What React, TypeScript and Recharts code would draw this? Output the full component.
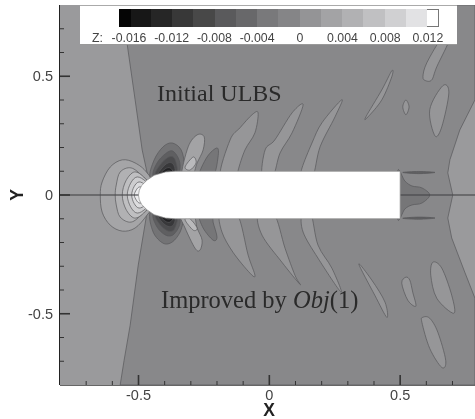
import { ScatterChart, Scatter, XAxis, YAxis } from "recharts";

type Pt = [number, number];

const xTicks = [-0.7, -0.6, -0.5, -0.4, -0.3, -0.2, -0.1, 0, 0.1, 0.2, 0.3, 0.4, 0.5, 0.6, 0.7];
const yTicks = [-0.7, -0.6, -0.5, -0.4, -0.3, -0.2, -0.1, 0, 0.1, 0.2, 0.3, 0.4, 0.5, 0.6, 0.7];
const majorTicks = [-0.5, 0, 0.5];

const barLabels = ["-0.016", "-0.012", "-0.008", "-0.004", "0", "0.004", "0.008", "0.012"];
const barColors = [
  "#050505", "#171717", "#262626", "#383838", "#484848", "#5a5a5c", "#68686a", "#79797b",
  "#858587", "#949496", "#a3a3a5", "#b1b1b3", "#c0c0c2", "#d0d0d2", "#e2e2e4", "#ffffff",
];

// contour regions, in plot coordinates
const plotArea: Pt[] = [[-0.8, 0.8], [0.786, 0.8], [0.786, -0.8], [-0.8, -0.8]];
const zeroRegion: Pt[] = [
  [-0.555, 0.8], [-0.543, 0.633], [-0.513, 0.401], [-0.486, 0.19], [-0.467, 0.093], [-0.471, -0.097],
  [-0.501, -0.295], [-0.532, -0.549], [-0.555, -0.696], [-0.57, -0.8], [0.786, -0.8], [0.786, -0.435],
  [0.747, -0.325], [0.697, -0.181], [0.682, -0.097], [0.701, 0], [0.682, 0.093], [0.69, 0.148],
  [0.728, 0.274], [0.786, 0.401], [0.786, 0.8],
];
const centerLine: Pt[] = [[-0.8, 0], [0.786, 0]];

const nose1: Pt[] = [[-0.467, 0.093], [-0.513, 0.135], [-0.562, 0.148], [-0.608, 0.118], [-0.639, 0.055], [-0.646, 0], [-0.639, -0.072], [-0.608, -0.127], [-0.562, -0.152], [-0.513, -0.139], [-0.467, -0.084], [-0.417, 0]];
const nose2: Pt[] = [[-0.482, 0.076], [-0.528, 0.114], [-0.57, 0.097], [-0.585, 0.042], [-0.589, 0], [-0.585, -0.042], [-0.57, -0.093], [-0.528, -0.114], [-0.482, -0.076], [-0.417, 0]];
const nose3: Pt[] = [[-0.562, 0], [-0.548, 0.06], [-0.515, 0.097], [-0.475, 0.07], [-0.43, 0], [-0.475, -0.07], [-0.515, -0.097], [-0.548, -0.06]];
const nose4: Pt[] = [[-0.543, 0], [-0.53, 0.05], [-0.505, 0.076], [-0.47, 0.055], [-0.43, 0], [-0.47, -0.055], [-0.505, -0.076], [-0.53, -0.05]];
const nose5: Pt[] = [[-0.526, 0], [-0.517, 0.035], [-0.498, 0.055], [-0.47, 0.04], [-0.43, 0], [-0.47, -0.04], [-0.498, -0.055], [-0.517, -0.035]];
const nose6: Pt[] = [[-0.516, 0], [-0.508, 0.022], [-0.495, 0.034], [-0.47, 0.025], [-0.44, 0], [-0.47, -0.025], [-0.495, -0.034], [-0.508, -0.022]];

const darkTop1: Pt[] = [[-0.455, 0.072], [-0.44, 0.148], [-0.406, 0.203], [-0.371, 0.219], [-0.337, 0.19], [-0.326, 0.127], [-0.341, 0.063], [-0.398, 0.042]];
const darkTop2: Pt[] = [[-0.444, 0.08], [-0.429, 0.135], [-0.398, 0.173], [-0.371, 0.186], [-0.348, 0.156], [-0.341, 0.114], [-0.356, 0.063], [-0.398, 0.051]];
const darkTop3: Pt[] = [[-0.436, 0.084], [-0.417, 0.127], [-0.39, 0.156], [-0.368, 0.16], [-0.356, 0.135], [-0.352, 0.097], [-0.371, 0.063], [-0.398, 0.055]];
const darkTop4: Pt[] = [[-0.429, 0.08], [-0.41, 0.114], [-0.387, 0.135], [-0.368, 0.131], [-0.36, 0.097], [-0.379, 0.063], [-0.406, 0.063]];
const darkTop5: Pt[] = [[-0.417, 0.084], [-0.398, 0.11], [-0.379, 0.114], [-0.368, 0.093], [-0.387, 0.063]];
const darkTop6: Pt[] = [[-0.406, 0.084], [-0.39, 0.101], [-0.375, 0.097], [-0.387, 0.072]];

const darkLow1: Pt[] = [[-0.455, -0.072], [-0.444, -0.156], [-0.406, -0.203], [-0.371, -0.198], [-0.341, -0.156], [-0.33, -0.105], [-0.341, -0.063], [-0.398, -0.042]];
const darkLow2: Pt[] = [[-0.444, -0.08], [-0.429, -0.135], [-0.398, -0.168], [-0.371, -0.17], [-0.348, -0.14], [-0.341, -0.105], [-0.356, -0.063], [-0.398, -0.051]];
const darkLow3: Pt[] = [[-0.436, -0.084], [-0.417, -0.125], [-0.39, -0.15], [-0.368, -0.15], [-0.356, -0.125], [-0.352, -0.097], [-0.371, -0.063], [-0.398, -0.055]];
const darkLow4: Pt[] = [[-0.429, -0.08], [-0.41, -0.114], [-0.387, -0.132], [-0.368, -0.128], [-0.36, -0.097], [-0.379, -0.063], [-0.406, -0.063]];
const darkLow5: Pt[] = [[-0.417, -0.084], [-0.398, -0.11], [-0.379, -0.114], [-0.368, -0.093], [-0.387, -0.063]];
const darkLow6: Pt[] = [[-0.406, -0.084], [-0.39, -0.101], [-0.375, -0.097], [-0.387, -0.072]];

const lobeA: Pt[] = [[-0.335, 0.08], [-0.31, 0.203], [-0.276, 0.253], [-0.249, 0.245], [-0.253, 0.19], [-0.276, 0.135], [-0.295, 0.08]];
const lobeAInner: Pt[] = [[-0.322, 0.118], [-0.291, 0.16], [-0.28, 0.135], [-0.303, 0.105]];
const lobeB: Pt[] = [[-0.268, 0.08], [-0.238, 0.16], [-0.2, 0.198], [-0.196, 0.16], [-0.215, 0.08]];
const lobeC: Pt[] = [[-0.188, 0.08], [-0.15, 0.232], [-0.112, 0.283], [-0.066, 0.338], [-0.043, 0.346], [-0.055, 0.262], [-0.093, 0.19], [-0.119, 0.105], [-0.12, 0.08]];
const lobeD: Pt[] = [[-0.028, 0.08], [-0.016, 0.19], [0.021, 0.232], [0.087, 0.346], [0.129, 0.38], [0.087, 0.262], [0.041, 0.177], [0.014, 0.08]];
const lobeE: Pt[] = [[0.125, 0.08], [0.125, 0.114], [0.163, 0.219], [0.201, 0.304], [0.277, 0.401], [0.251, 0.329], [0.194, 0.203], [0.166, 0.08]];
const lobeF: Pt[] = [[0.468, 0.523], [0.43, 0.443], [0.369, 0.329], [0.377, 0.329], [0.43, 0.401], [0.468, 0.498]];
const lobeG: Pt[] = [[0.522, 0.4], [0.51, 0.371], [0.522, 0.338], [0.534, 0.371]];
const lobeH: Pt[] = [[0.587, 0.498], [0.602, 0.557], [0.659, 0.66], [0.69, 0.66], [0.64, 0.54], [0.621, 0.485], [0.598, 0.481]];
const lobeI: Pt[] = [[0.663, 0.46], [0.613, 0.359], [0.633, 0.249], [0.659, 0.287], [0.686, 0.43]];

const lowA: Pt[] = [[-0.341, -0.08], [-0.322, -0.139], [-0.284, -0.224], [-0.265, -0.232], [-0.257, -0.19], [-0.276, -0.139], [-0.291, -0.08]];
const lowAInner: Pt[] = [[-0.322, -0.105], [-0.291, -0.148], [-0.276, -0.139], [-0.303, -0.1]];
const lowB: Pt[] = [[-0.268, -0.08], [-0.253, -0.139], [-0.215, -0.19], [-0.2, -0.177], [-0.215, -0.114], [-0.219, -0.08]];
const lowC: Pt[] = [[-0.188, -0.08], [-0.181, -0.156], [-0.139, -0.241], [-0.074, -0.329], [-0.055, -0.338], [-0.081, -0.253], [-0.123, -0.08]];
const lowD: Pt[] = [[-0.043, -0.08], [-0.028, -0.169], [0.048, -0.283], [0.117, -0.376], [0.098, -0.338], [0.06, -0.224], [0.018, -0.08]];
const lowE: Pt[] = [[0.125, -0.08], [0.129, -0.156], [0.186, -0.266], [0.274, -0.409], [0.239, -0.308], [0.186, -0.211], [0.159, -0.08]];
const lowF: Pt[] = [[0.342, -0.291], [0.403, -0.422], [0.449, -0.515], [0.442, -0.451], [0.392, -0.359]];
const lowG: Pt[] = [[0.522, -0.346], [0.506, -0.371], [0.529, -0.443], [0.56, -0.468], [0.548, -0.409], [0.537, -0.359]];
const lowH: Pt[] = [[0.587, -0.515], [0.583, -0.536], [0.613, -0.646], [0.659, -0.726], [0.674, -0.696], [0.644, -0.578], [0.613, -0.519]];
const lowI: Pt[] = [[0.625, -0.283], [0.617, -0.338], [0.64, -0.435], [0.705, -0.498], [0.697, -0.422], [0.659, -0.308]];

const wakeTop: Pt[] = [[0.51, 0.095], [0.571, 0.099], [0.633, 0.095], [0.571, 0.09]];
const wakeLow: Pt[] = [[0.51, -0.098], [0.571, -0.093], [0.633, -0.097], [0.571, -0.102]];
const wakeBase: Pt[] = [[0.49, 0.1], [0.518, 0.059], [0.545, 0.038], [0.583, 0.03], [0.613, 0], [0.583, -0.034], [0.545, -0.042], [0.518, -0.059], [0.49, -0.1]];

const body: Pt[] = [
  [-0.5, 0], [-0.497, 0.02], [-0.488, 0.04], [-0.467, 0.063], [-0.44, 0.083], [-0.397, 0.097], [-0.36, 0.1],
  [0.5, 0.1], [0.5, -0.1], [-0.36, -0.1], [-0.397, -0.097], [-0.44, -0.083], [-0.467, -0.063], [-0.488, -0.04], [-0.497, -0.02],
];

const LOBE = "#969698";
const DARK = "#767678";
const EDGE = "#58585a";

const layers: { pts: Pt[]; fill: string; smooth?: boolean; stroke?: string }[] = [
  { pts: plotArea, fill: "#9a9a9c", stroke: "none" },
  { pts: zeroRegion, fill: "#88888a" },
  { pts: nose1, fill: "#a5a5a7", smooth: true },
  { pts: nose2, fill: "#b1b1b3", smooth: true },
  { pts: nose3, fill: "#bfbfc1", smooth: true },
  { pts: nose4, fill: "#cdcdcf", smooth: true },
  { pts: nose5, fill: "#dcdcde", smooth: true },
  { pts: nose6, fill: "#ececee", smooth: true },
  { pts: darkTop1, fill: "#737375", smooth: true },
  { pts: darkTop2, fill: "#5f5f61", smooth: true },
  { pts: darkTop3, fill: "#4c4c4e", smooth: true },
  { pts: darkTop4, fill: "#38383a", smooth: true },
  { pts: darkTop5, fill: "#222224", smooth: true },
  { pts: darkTop6, fill: "#101010", smooth: true },
  { pts: darkLow1, fill: "#737375", smooth: true },
  { pts: darkLow2, fill: "#5f5f61", smooth: true },
  { pts: darkLow3, fill: "#4c4c4e", smooth: true },
  { pts: darkLow4, fill: "#38383a", smooth: true },
  { pts: darkLow5, fill: "#222224", smooth: true },
  { pts: darkLow6, fill: "#101010", smooth: true },
  { pts: lobeA, fill: "#a3a3a5", smooth: true },
  { pts: lobeAInner, fill: "#bababc", smooth: true },
  { pts: lobeB, fill: DARK, smooth: true },
  { pts: lobeC, fill: LOBE, smooth: true },
  { pts: lobeD, fill: LOBE, smooth: true },
  { pts: lobeE, fill: LOBE, smooth: true },
  { pts: lobeF, fill: LOBE, smooth: true },
  { pts: lobeG, fill: LOBE, smooth: true },
  { pts: lobeH, fill: LOBE, smooth: true },
  { pts: lobeI, fill: LOBE, smooth: true },
  { pts: lowA, fill: "#a3a3a5", smooth: true },
  { pts: lowAInner, fill: "#bababc", smooth: true },
  { pts: lowB, fill: DARK, smooth: true },
  { pts: lowC, fill: LOBE, smooth: true },
  { pts: lowD, fill: LOBE, smooth: true },
  { pts: lowE, fill: LOBE, smooth: true },
  { pts: lowF, fill: LOBE, smooth: true },
  { pts: lowG, fill: LOBE, smooth: true },
  { pts: lowH, fill: LOBE, smooth: true },
  { pts: lowI, fill: LOBE, smooth: true },
  { pts: wakeTop, fill: "#606062", smooth: true },
  { pts: wakeLow, fill: "#606062", smooth: true },
  { pts: wakeBase, fill: DARK, smooth: true },
  { pts: centerLine, fill: "none", stroke: "#48484a" },
  { pts: body, fill: "#ffffff", stroke: "#8a8a8a" },
];

// closed Catmull-Rom path through the scaled points
function closedPath(p: { x: number; y: number }[], smooth?: boolean) {
  if (!smooth) return "M" + p.map((q) => `${q.x},${q.y}`).join("L") + "Z";
  const n = p.length;
  let d = `M${p[0].x},${p[0].y}`;
  for (let i = 0; i < n; i++) {
    const a = p[(i - 1 + n) % n];
    const b = p[i];
    const c = p[(i + 1) % n];
    const e = p[(i + 2) % n];
    d += `C${b.x + (c.x - a.x) / 6},${b.y + (c.y - a.y) / 6} ${c.x - (e.x - b.x) / 6},${c.y - (e.y - b.y) / 6} ${c.x},${c.y}`;
  }
  return d + "Z";
}

const sans = "'Liberation Sans', Arial, sans-serif";
const serif = "'Liberation Serif', 'Times New Roman', serif";
const isMajor = (v: number) => majorTicks.includes(v);

function XTick({ x, y, payload }: any) {
  const major = isMajor(payload.value);
  return (
    <g>
      <line x1={x} x2={x} y1={y} y2={y - (major ? 10 : 4)} stroke="#333" strokeWidth={major ? 1.6 : 1} />
      {major && (
        <text x={x} y={y + 15} textAnchor="middle" fontSize={14.5} fontFamily={sans} fill="#444">
          {payload.value}
        </text>
      )}
    </g>
  );
}

function YTick({ x, y, payload }: any) {
  const major = isMajor(payload.value);
  return (
    <g>
      <line x1={x} x2={x + (major ? 10 : 4)} y1={y} y2={y} stroke="#333" strokeWidth={major ? 1.6 : 1} />
      {major && (
        <text x={x - 7} y={y + 5} textAnchor="end" fontSize={14.5} fontFamily={sans} fill="#444">
          {payload.value}
        </text>
      )}
    </g>
  );
}

function ColorBar() {
  return (
    <div
      style={{
        position: "absolute", left: 80, top: 5, width: 377, height: 40, background: "#fff",
        borderTop: "1px solid #aaa", borderBottom: "1px solid #999", boxSizing: "border-box",
        fontFamily: sans, fontSize: 12.3, color: "#444",
      }}
    >
      <div style={{ position: "absolute", left: 39, top: 3, width: 320, height: 18, display: "flex" }}>
        {barColors.map((c, i) => (
          <div key={i} style={{ flex: i === 0 ? "0 0 12px" : i === 1 ? "0 0 20px" : i === 15 ? "0 0 11px" : "1 1 0", background: c, borderRight: i === 15 ? "1px solid #777" : undefined, borderTop: i === 15 ? "1px solid #777" : undefined, borderBottom: i === 15 ? "1px solid #777" : undefined }} />
        ))}
      </div>
      <span style={{ position: "absolute", left: 12, top: 25 }}>Z:</span>
      {barLabels.map((t, i) => (
        <span key={t} style={{ position: "absolute", left: 49 + i * 42.7, top: 25, width: 0, display: "flex", justifyContent: "center", whiteSpace: "nowrap" }}>
          {t}
        </span>
      ))}
    </div>
  );
}

export default function App() {
  return (
    <div style={{ position: "absolute", left: 0, top: 0, width: 475, height: 419, overflow: "hidden", background: "#fff", filter: "blur(0.45px)" }}>
      <ScatterChart width={475} height={419} margin={{ top: 5, right: 0, bottom: 0, left: 0 }}>
        <XAxis
          type="number"
          dataKey="x"
          domain={[-0.8, 0.786]}
          ticks={xTicks}
          interval={0}
          height={34}
          tickSize={0}
          tickMargin={0}
          tickLine={false}
          tick={<XTick />}
          axisLine={{ stroke: "#333", strokeWidth: 1.5 }}
          allowDataOverflow
        />
        <YAxis
          type="number"
          dataKey="y"
          domain={[-0.8, 0.8]}
          ticks={yTicks}
          interval={0}
          width={60}
          tickSize={0}
          tickMargin={0}
          tickLine={false}
          tick={<YTick />}
          axisLine={{ stroke: "#222", strokeWidth: 2 }}
          allowDataOverflow
        />
        {layers.map((l, i) => (
          <Scatter
            key={i}
            data={l.pts.map(([x, y]) => ({ x, y }))}
            isAnimationActive={false}
            shape={() => <g />}
            line={(p: any) => (
              <path
                d={closedPath(p.points, l.smooth)}
                fill={l.fill}
                stroke={l.stroke ?? EDGE}
                strokeWidth={0.7}
              />
            )}
          />
        ))}
      </ScatterChart>
      <ColorBar />
      <div style={{ position: "absolute", left: 157, top: 80, fontFamily: serif, fontSize: 24, color: "#2a2a2a", whiteSpace: "nowrap" }}>
        Initial ULBS
      </div>
      <div style={{ position: "absolute", left: 161, top: 286, fontFamily: serif, fontSize: 24.5, color: "#2a2a2a", whiteSpace: "nowrap" }}>
        Improved by <i>Obj</i>(1)
      </div>
      <div style={{ position: "absolute", left: 269, top: 404, transform: "translate(-50%, 0)", fontFamily: sans, fontWeight: 700, fontSize: 17.5, color: "#222", lineHeight: "13px" }}>
        X
      </div>
      <div style={{ position: "absolute", left: 17, top: 195, transform: "translate(-50%, -50%) rotate(-90deg)", fontFamily: sans, fontWeight: 700, fontSize: 17.5, color: "#222", lineHeight: "13px" }}>
        Y
      </div>
    </div>
  );
}
